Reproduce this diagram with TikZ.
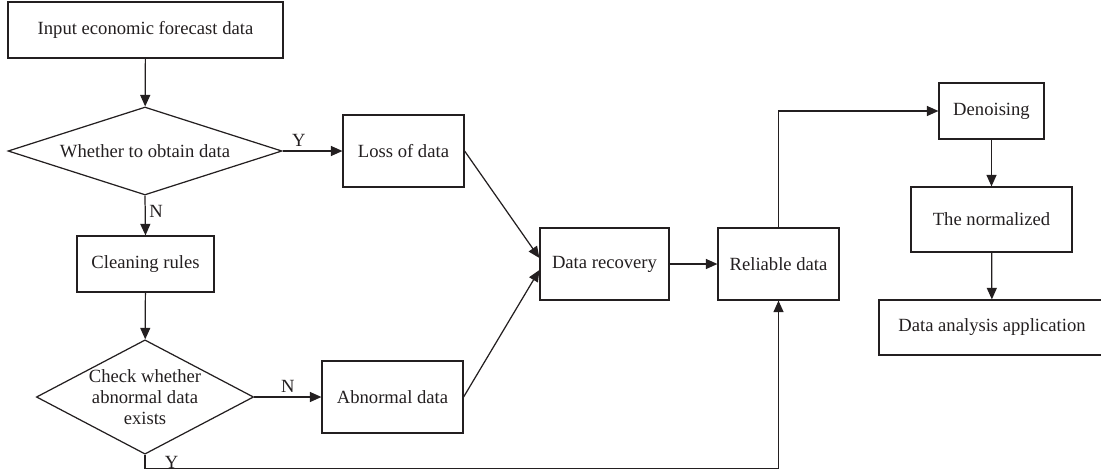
\documentclass[tikz,border=0pt]{standalone}
\usepackage{fontspec}
\setmainfont{Liberation Serif}
\usepackage{xcolor}
\usepackage{tikz}
\usetikzlibrary{shapes.geometric, arrows.meta, positioning, calc}
\definecolor{linedark}{RGB}{35, 31, 32}

\tikzset{
    flowbox/.style={draw=linedark, line width=0.7pt, rectangle, inner sep=2pt,
        font=\fontsize{10.6}{12}\selectfont, text=linedark},
    decision/.style={draw=linedark, line width=0.7pt, diamond, inner sep=0pt,
        font=\fontsize{10.6}{12}\selectfont, text=linedark, align=center},
    flowline/.style={draw=linedark, line width=0.7pt,
        -{Triangle[length=2.3mm,width=2mm]}},
    yn/.style={font=\fontsize{10.6}{12}\selectfont, text=linedark, inner sep=2pt}
}

\begin{document}
\begin{tikzpicture}[x=0.02cm, y=-0.02cm]
    \useasboundingbox (0,0) rectangle (1101,470);

    % left column
    \node[flowbox, minimum width=5.5cm, minimum height=1.12cm] (input) at (145.5,30) {Input economic forecast data};
    \node[decision, aspect=3.1, minimum width=5.48cm, minimum height=1.76cm] (obtain) at (145,151) {Whether to obtain data};
    \node[flowbox, minimum width=2.74cm, minimum height=1.12cm] (clean) at (145.5,264) {Cleaning rules};
    \node[decision, aspect=1.9, minimum width=4.28cm, minimum height=2.24cm] (check) at (145,397) {Check whether\\abnormal data\\exists};

    % middle
    \node[flowbox, minimum width=2.42cm, minimum height=1.44cm] (loss) at (403.5,151) {Loss of data};
    \node[flowbox, minimum width=2.82cm, minimum height=1.44cm] (abnormal) at (392.5,397) {Abnormal data};
    \node[flowbox, minimum width=2.58cm, minimum height=1.44cm] (recovery) at (604.5,264) {Data recovery};
    \node[flowbox, minimum width=2.42cm, minimum height=1.44cm] (reliable) at (778.5,264) {Reliable data};

    % right column
    \node[flowbox, minimum width=2.1cm, minimum height=1.12cm] (denoise) at (991.5,111) {Denoising};
    \node[flowbox, minimum width=3.22cm, minimum height=1.3cm] (normal) at (991.5,219.5) {The normalized};
    \node[flowbox, minimum width=4.52cm, minimum height=1.1cm] (analysis) at (992,327.5) {Data analysis application};

    % connectors
    \draw[flowline] (input) -- (obtain);
    \draw[flowline] (obtain.east) -- node[yn, above, pos=0.27] {Y} (loss.west);
    \draw[flowline] (obtain.south) -- node[yn, right, pos=0.4] {N} (clean.north);
    \draw[flowline] (clean) -- (check);
    \draw[flowline] (check.east) -- node[yn, above, pos=0.5] {N} (abnormal.west);
    \draw[flowline] (loss.east) -- ([yshift=0.12cm]recovery.west);
    \draw[flowline] (abnormal.east) -- ([yshift=-0.12cm]recovery.west);
    \draw[flowline] (recovery) -- (reliable);
    \draw[flowline] (check.south) -- ++(0,14) node[yn, above right, xshift=9pt, yshift=-2pt] {Y} -| (reliable.south);
    \draw[flowline] (reliable.north) |- (denoise.west);
    \draw[flowline] (denoise) -- (normal);
    \draw[flowline] (normal) -- (analysis);
\end{tikzpicture}
\end{document}
